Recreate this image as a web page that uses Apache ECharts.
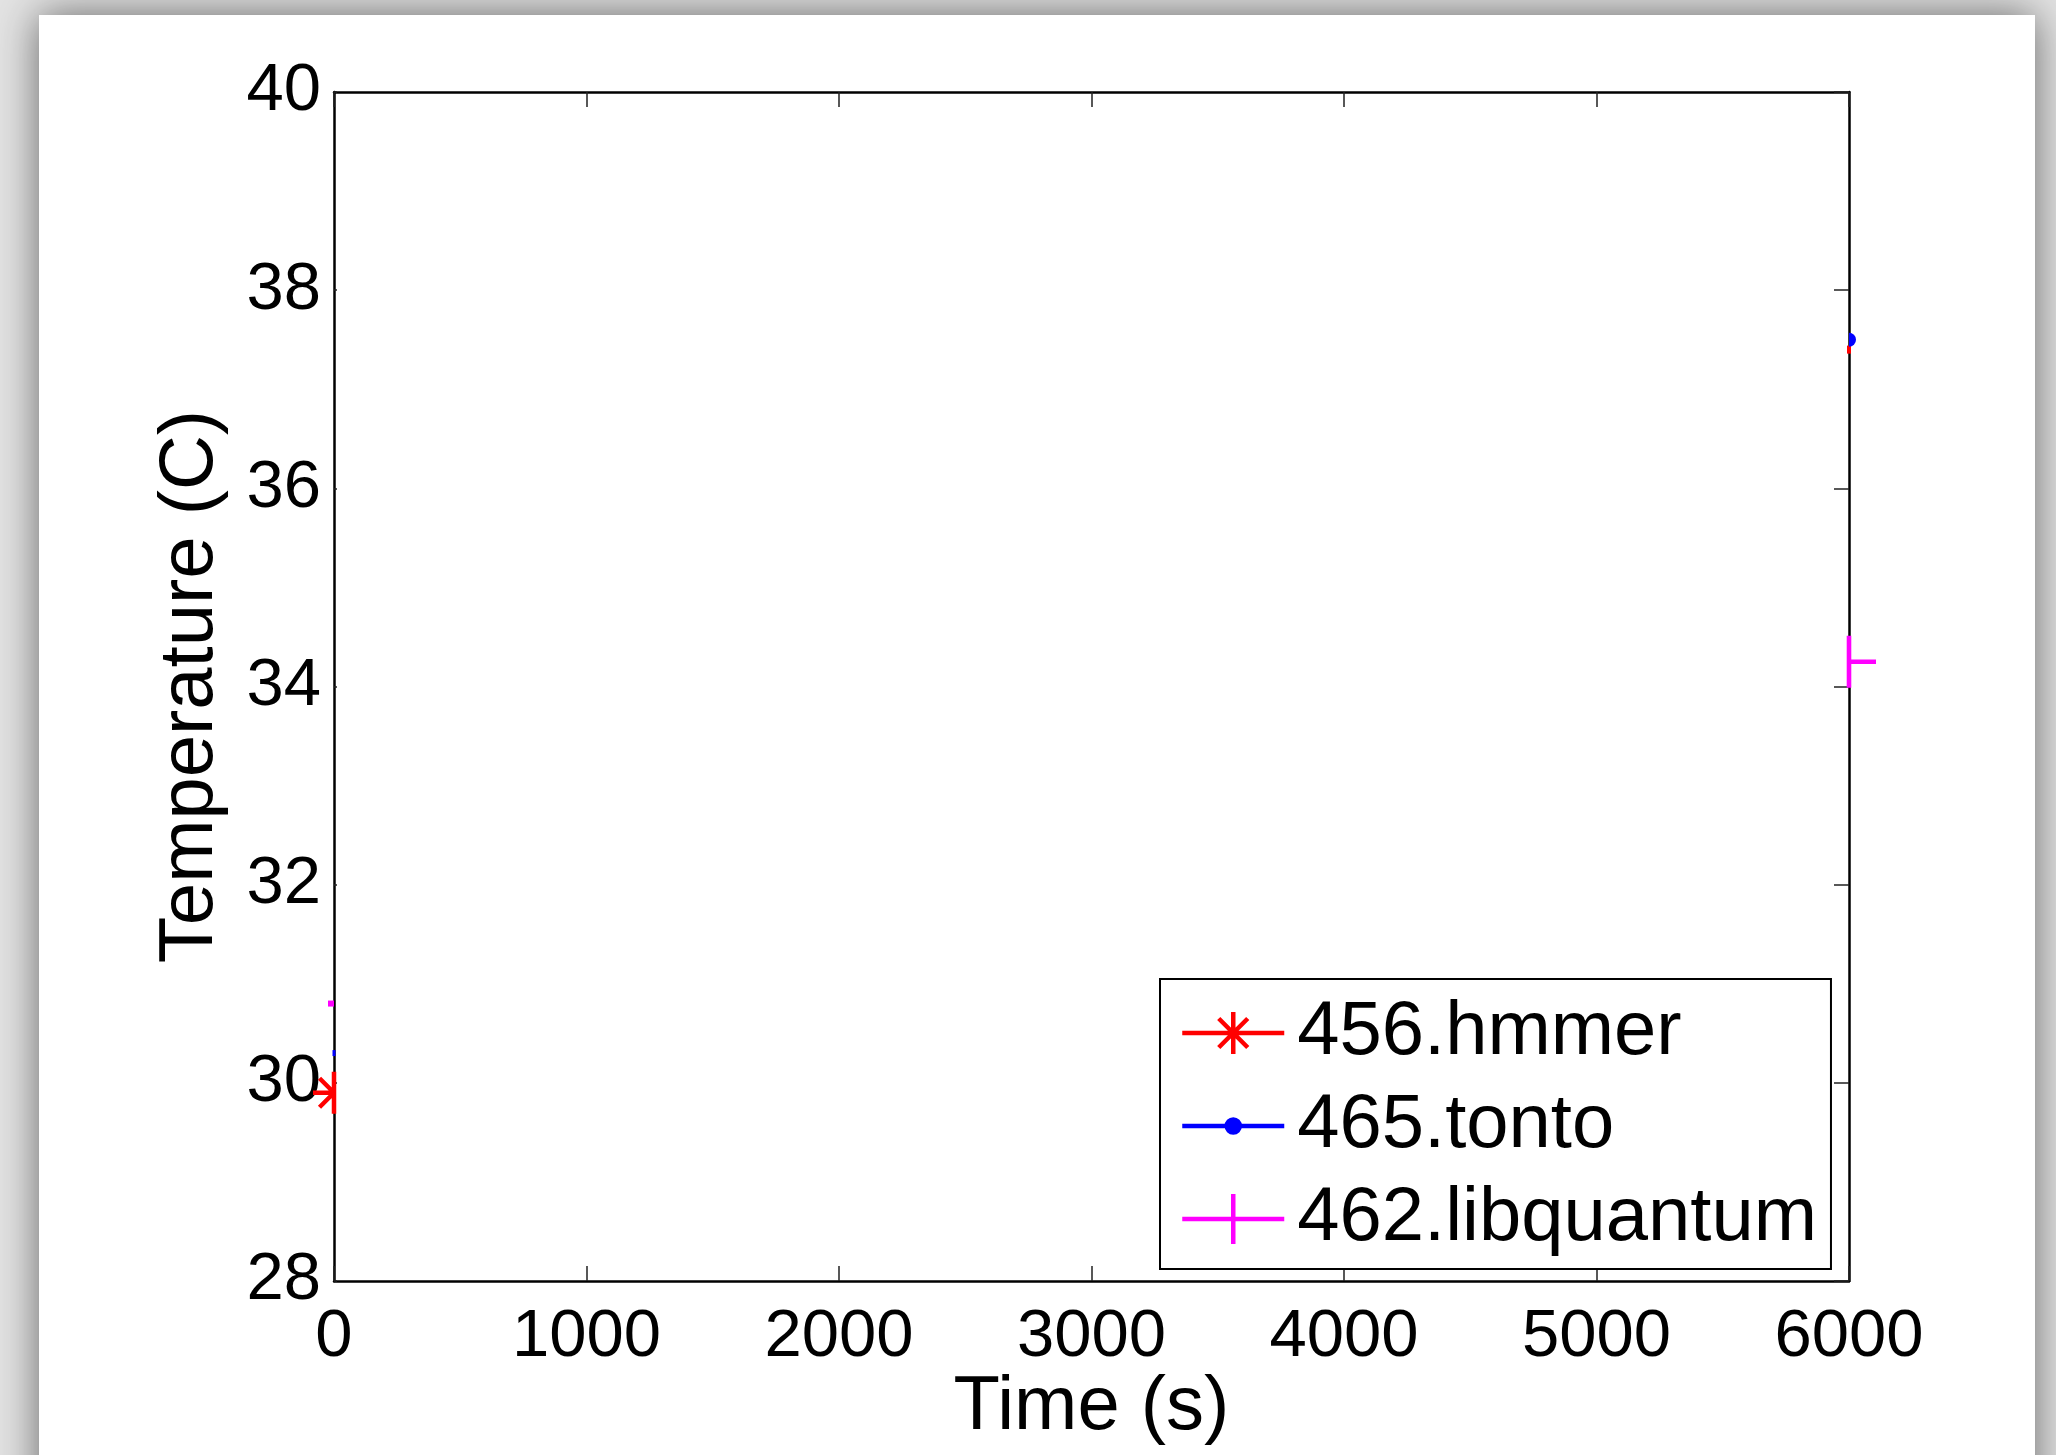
<!DOCTYPE html>
<html>
<head>
<meta charset="utf-8">
<title>Temperature vs time</title>
<script src="https://cdn.jsdelivr.net/npm/echarts@6/dist/echarts.min.js"></script>
<style>
  html, body { margin: 0; padding: 0; width: 2056px; height: 1455px; overflow: hidden; background: #e3e3e3; }
  #paper { position: absolute; left: 39px; top: 15px; width: 1996px; height: 1500px; background: #fff; box-shadow: 0 0 40px rgba(0, 0, 0, 0.55); }
  #chart { position: absolute; left: 0; top: 0; width: 2056px; height: 1455px; }
</style>
</head>
<body>
<div id="paper"></div>
<div id="chart"></div>
<script>
// values
const times = [0, 6000];
const hmmerTemp = [29.9, 37.4];
const tontoTemp = [30.3, 37.5];
const libquantumTemp = [30.8, 34.25];
const seriesNames = ['456.hmmer', '465.tonto', '462.libquantum'];
const xTicks = { min: 0, max: 6000, step: 1000 };
const yTicks = { min: 28, max: 40, step: 2 };

const FONT = '"Liberation Sans", Arial, Helvetica, sans-serif';
const RED = '#ff0000';
const BLUE = '#0000ff';
const MAGENTA = '#ff00ff';
const LW = 4.5;

// only the part of each marker that shows outside the axes box is drawn
const starLeft = 'path://M21 0L21 42M21 21L0 21M21 21L6.5 6.5M21 21L6.5 35.5M42 21';
const dotRight = 'path://M7 0A7 7 0 0 1 7 14ZM0 7';
const plusRight = 'path://M0 0L0 52M0 26L27 26M-27 26';

// legend icons: 102px line + marker, padded to 110px so the text sits a bit further right
const iconStar = 'path://M0 25L102 25M51 4L51 46M36.5 10.5L65.5 39.5M36.5 39.5L65.5 10.5M0 0M110 50';
const iconDot = 'path://M0 25L102 25M44.5 25A6.5 6.5 0 1 1 57.5 25A6.5 6.5 0 1 1 44.5 25ZM0 0M110 50';
const iconPlus = 'path://M0 25L102 25M51 0L51 50M110 25';

function points(values, marks) {
  return times.map((t, i) => Object.assign({ value: [t, values[i]] }, marks[i]));
}

const chart = echarts.init(document.getElementById('chart'));

// onZero off, otherwise the right y axis jumps to x = 0
const axisLine = { show: true, onZero: false, lineStyle: { color: '#000', width: 2.5 } };
const tick = (len) => ({ show: true, inside: true, length: len, lineStyle: { color: '#222', width: 1.5 } });
const labelStyle = { color: '#000', fontSize: 67, lineHeight: 67, fontFamily: FONT, formatter: (v) => String(v) };

const option = {
  backgroundColor: 'transparent',
  animation: false,
  grid: { left: 334, top: 92, right: 207, bottom: 174, containLabel: false, outerBoundsMode: 'none' },
  xAxis: [
    {
      type: 'value', position: 'bottom',
      min: xTicks.min, max: xTicks.max, interval: xTicks.step,
      axisLine: axisLine, axisTick: tick(15),
      axisLabel: Object.assign({ margin: 23 }, labelStyle),
      splitLine: { show: false },
      name: 'Time (s)', nameLocation: 'middle', nameGap: 89, nameMoveOverlap: false,
      nameTextStyle: { color: '#000', fontSize: 76, lineHeight: 76, fontFamily: FONT }
    },
    {
      type: 'value', position: 'top',
      min: xTicks.min, max: xTicks.max, interval: xTicks.step,
      axisLine: axisLine, axisTick: tick(15),
      axisLabel: { show: false }, splitLine: { show: false }
    }
  ],
  yAxis: [
    {
      type: 'value', position: 'left',
      min: yTicks.min, max: yTicks.max, interval: yTicks.step,
      axisLine: axisLine, axisTick: tick(3),
      axisLabel: Object.assign({ margin: 13 }, labelStyle),
      splitLine: { show: false },
      name: 'Temperature (C)', nameLocation: 'middle', nameRotate: 90, nameGap: 105, nameMoveOverlap: false,
      nameTextStyle: { color: '#000', fontSize: 76, lineHeight: 76, fontFamily: FONT }
    },
    {
      type: 'value', position: 'right',
      min: yTicks.min, max: yTicks.max, interval: yTicks.step,
      axisLine: axisLine, axisTick: tick(15),
      axisLabel: { show: false }, splitLine: { show: false }
    }
  ],
  legend: {
    orient: 'vertical',
    left: 1160, top: 979,
    padding: [16, 14, 12, 20],
    itemGap: 17,
    itemWidth: 110, itemHeight: 50,
    backgroundColor: '#fff',
    borderColor: '#000', borderWidth: 2, borderRadius: 0,
    selectedMode: false,
    textStyle: { color: '#000', fontSize: 76, lineHeight: 50, fontFamily: FONT },
    data: [
      { name: seriesNames[0], icon: iconStar, itemStyle: { color: RED, borderColor: RED, borderWidth: LW } },
      { name: seriesNames[1], icon: iconDot, itemStyle: { color: BLUE, borderColor: BLUE, borderWidth: LW } },
      { name: seriesNames[2], icon: iconPlus, itemStyle: { color: MAGENTA, borderColor: MAGENTA, borderWidth: LW } }
    ]
  },
  series: [
    {
      name: seriesNames[0], type: 'scatter', clip: false, z: 5,
      itemStyle: { color: RED, borderColor: RED, borderWidth: LW, opacity: 1 },
      data: points(hmmerTemp, [
        { symbol: starLeft, symbolSize: 42 },
        { symbol: 'rect', symbolSize: [4, 8], itemStyle: { borderWidth: 0 } }
      ])
    },
    {
      name: seriesNames[1], type: 'scatter', clip: false, z: 5,
      itemStyle: { color: BLUE, borderColor: BLUE, borderWidth: 0, opacity: 1 },
      data: points(tontoTemp, [
        { symbol: 'rect', symbolSize: [3, 6] },
        { symbol: dotRight, symbolSize: 14 }
      ])
    },
    {
      name: seriesNames[2], type: 'scatter', clip: false, z: 5,
      itemStyle: { color: MAGENTA, borderColor: MAGENTA, borderWidth: LW, opacity: 1 },
      data: points(libquantumTemp, [
        { symbol: 'rect', symbolSize: [6, 6], symbolOffset: [-3, 0], itemStyle: { borderWidth: 0 } },
        { symbol: plusRight, symbolSize: [54, 52] }
      ])
    }
  ]
};

chart.setOption(option);
</script>
</body>
</html>
